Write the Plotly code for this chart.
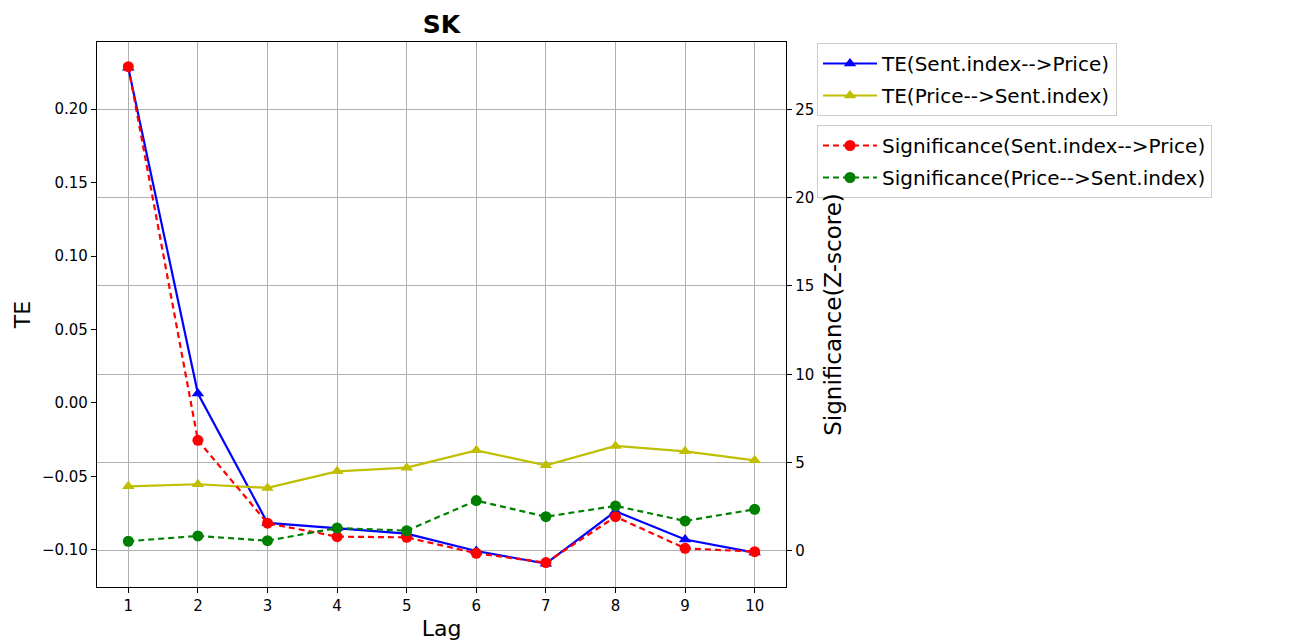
import plotly.graph_objects as go

# Lags and transfer-entropy / significance results for SK
lags = [1, 2, 3, 4, 5, 6, 7, 8, 9, 10]
te_sent_to_price = [0.228, 0.0064, -0.0816, -0.085, -0.0889, -0.1007, -0.1093, -0.0737, -0.0929, -0.1018]
te_price_to_sent = [-0.0567, -0.0553, -0.0578, -0.0465, -0.044, -0.0322, -0.0424, -0.0292, -0.0329, -0.039]
sig_sent_to_price = [27.41, 6.26, 1.57, 0.81, 0.77, -0.13, -0.66, 1.94, 0.15, -0.04]
sig_price_to_sent = [0.55, 0.85, 0.58, 1.30, 1.15, 2.85, 1.94, 2.55, 1.70, 2.36]

FONT = "DejaVu Sans"
GRID = "#b0b0b0"

fig = go.Figure()

fig.add_trace(go.Scatter(
    x=lags, y=te_sent_to_price, name="TE(Sent.index-->Price)",
    mode="lines+markers", line=dict(color="#0000ff", width=2.2),
    marker=dict(symbol="triangle-up", size=11, color="#0000ff"),
    yaxis="y", legend="legend", legendgroup="a",
))
fig.add_trace(go.Scatter(
    x=lags, y=te_price_to_sent, name="TE(Price-->Sent.index)",
    mode="lines+markers", line=dict(color="#bfbf00", width=2.2),
    marker=dict(symbol="triangle-up", size=11, color="#bfbf00"),
    yaxis="y", legend="legend", legendgroup="b",
))
fig.add_trace(go.Scatter(
    x=lags, y=sig_sent_to_price, name="Significance(Sent.index-->Price)",
    mode="lines+markers", line=dict(color="#ff0000", width=2.2, dash="6px,4px"),
    marker=dict(symbol="circle", size=11, color="#ff0000"),
    yaxis="y2", legend="legend2", legendgroup="c",
))
fig.add_trace(go.Scatter(
    x=lags, y=sig_price_to_sent, name="Significance(Price-->Sent.index)",
    mode="lines+markers", line=dict(color="#008000", width=2.2, dash="6px,4px"),
    marker=dict(symbol="circle", size=11, color="#008000"),
    yaxis="y2", legend="legend2", legendgroup="d",
))

axis_common = dict(
    showline=True, linecolor="black", linewidth=1.3,
    ticks="outside", ticklen=5, tickwidth=1.2, tickcolor="black",
    tickfont=dict(family=FONT, size=15, color="black"),
    zeroline=False, automargin=False,
)

legend_style = dict(
    font=dict(family=FONT, size=20, color="black"),
    bgcolor="rgba(255,255,255,0.8)", bordercolor="#cccccc", borderwidth=1,
    xanchor="left", yanchor="top", itemwidth=54, tracegroupgap=3,
)

fig.update_layout(
    width=1291, height=641,
    margin=dict(l=97, r=505, t=42, b=54, autoexpand=False),
    paper_bgcolor="white", plot_bgcolor="white",
    title=dict(text="<b>SK</b>", x=441.5 / 1291, xanchor="center",
               y=1 - 24 / 641, yanchor="middle",
               font=dict(family=FONT, size=25, color="black")),
    xaxis=dict(
        **axis_common, mirror=True, range=[0.55, 10.45],
        tickmode="array", tickvals=lags, ticktext=[str(v) for v in lags],
        showgrid=True, gridcolor=GRID, gridwidth=1,
        title=dict(text="Lag", font=dict(family=FONT, size=22, color="black"), standoff=8),
    ),
    yaxis=dict(
        **axis_common, range=[-0.1252, 0.2456],
        tickmode="array", tickvals=[-0.10, -0.05, 0.0, 0.05, 0.10, 0.15, 0.20],
        ticktext=["\u22120.10", "\u22120.05", "0.00", "0.05", "0.10", "0.15", "0.20"],
        showgrid=False,
        title=dict(text="TE", font=dict(family=FONT, size=22, color="black"), standoff=5),
    ),
    yaxis2=dict(
        **axis_common, overlaying="y", side="right", range=[-2.04, 28.81],
        tickmode="array", tickvals=[0, 5, 10, 15, 20, 25],
        showgrid=True, gridcolor=GRID, gridwidth=1,
        title=dict(text="Significance(Z-score)", font=dict(family=FONT, size=23, color="black"), standoff=11),
    ),
    legend=dict(**legend_style, x=(817 - 97) / 689, y=(587 - 43) / 545),
    legend2=dict(**legend_style, x=(817 - 97) / 689, y=(587 - 125) / 545),
    showlegend=True,
)

fig.write_html("out.html")
